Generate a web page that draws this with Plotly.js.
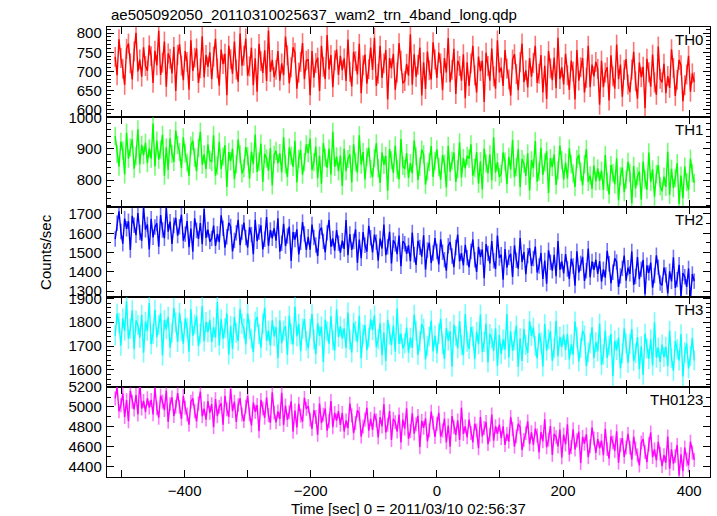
<!DOCTYPE html>
<html>
<head>
<meta charset="utf-8">
<script src="https://cdn.plot.ly/plotly-3.0.1.min.js"></script>
<style>html,body{margin:0;padding:0;background:#fff;}#chart{width:717px;height:516px;}</style>
</head>
<body>
<div id="chart"></div>
<script>
// ---- data ----
const chartTitle = "ae505092050_20110310025637_wam2_trn_4band_long.qdp";
const xTitle = "Time [sec] 0 = 2011/03/10 02:56:37";
const yTitle = "Counts/sec";
const bandNames = ["TH0", "TH1", "TH2", "TH3", "TH0123"];
const bandColors = ["#ff0000", "#00ff00", "#0000ff", "#00ffff", "#ff00ff"];
const errColors = ["rgba(255,0,0,0.55)", "rgba(0,255,0,0.55)", "rgba(0,0,255,0.55)", "rgba(0,255,255,0.55)", "rgba(255,0,255,0.55)"];
const tStart = -510, tStep = 3;
const xTickVals = [-500, -400, -300, -200, -100, 0, 100, 200, 300, 400];
const xTickText = ["", "\u2212400", "", "\u2212200", "", "0", "", "200", "", "400"];

const th0 = [
738,690,784,735,707,665,759,773,721,679,752,801,700,731,686,763,714,
702,768,740,670,754,716,806,691,723,778,660,747,733,695,764,649,743,
771,715,677,753,725,652,781,701,736,760,670,708,792,684,743,712,750,
680,739,785,708,663,757,719,746,638,767,732,694,778,705,673,799,715,
741,786,689,713,762,664,734,647,772,727,696,755,675,807,699,730,685,
704,753,676,721,690,791,742,669,711,763,749,655,697,725,774,680,728,
732,638,753,684,722,736,649,767,712,680,795,705,743,659,729,757,691,
741,703,734,675,783,699,661,751,727,692,772,643,716,744,668,706,762,
704,788,662,694,767,683,721,756,627,735,708,746,652,697,774,728,669,
675,720,689,797,665,745,686,717,762,637,724,654,752,703,679,776,731,
683,749,721,651,735,697,787,672,704,759,641,728,714,676,745,630,724,
662,721,767,690,645,739,701,728,620,749,714,676,760,687,655,781,697,
710,662,756,707,679,637,731,745,693,651,724,773,672,703,658,735,686,
722,767,670,694,743,645,715,628,753,708,677,736,656,788,680,711,666,
746,690,652,728,700,627,756,676,711,735,645,683,767,659,718,687,725,
707,613,728,659,697,711,624,742,687,655,770,680,718,634,704,732,666,
646,705,751,674,629,723,685,712,604,733,698,660,744,671,639,765,681,
671,720,643,688,657,758,709,636,678,730,716,622,664,692,741,647,695,672];

const th1 = [
940,883,843,922,894,818,951,868,904,930,836,876,962,850,912,879,919,
854,901,868,980,843,926,865,897,944,814,904,832,933,883,858,958,912,
889,838,936,885,856,813,910,925,871,828,903,954,849,882,835,914,864,
857,943,814,846,922,835,875,911,778,889,860,900,803,850,929,882,821,
837,905,876,804,891,851,945,826,858,916,794,884,869,830,902,783,880,
893,853,886,824,936,850,810,904,878,842,925,792,868,896,817,857,914,
886,932,832,857,907,806,878,788,918,871,839,900,817,954,842,875,828,
878,781,900,828,867,882,792,914,856,824,943,849,889,802,874,903,835,
809,870,917,838,791,888,848,877,766,899,863,823,910,834,802,931,845,
836,886,807,854,821,926,875,800,843,897,882,785,828,857,908,810,861,
898,841,801,880,852,776,909,826,862,888,794,834,920,808,870,837,877,
868,914,814,839,889,788,860,770,900,853,821,882,799,936,824,857,810,
820,888,859,787,874,834,928,809,841,899,777,867,852,813,885,766,863,
838,924,795,827,903,816,856,892,759,870,841,881,784,831,910,863,802,
856,805,901,850,821,778,867,880,826,783,850,899,794,815,772,846,796,
837,797,830,768,880,794,754,848,822,786,869,736,812,840,761,801,858,
823,726,845,773,812,827,737,859,801,769,888,794,834,747,819,848,780,
764,811,778,890,753,836,775,807,854,724,814,742,843,793,768,868,822,791];

const th2 = [
1570,1652,1714,1609,1546,1676,1623,1662,1513,1690,1642,1590,1705,1604,1561,1734,1618,
1646,1516,1675,1579,1632,1651,1531,1694,1617,1574,1732,1608,1660,1545,1641,1680,1588,
1634,1696,1562,1595,1663,1528,1624,1504,1677,1615,1571,1653,1543,1725,1576,1619,1557,
1573,1640,1534,1597,1554,1693,1626,1525,1582,1654,1635,1506,1563,1602,1669,1539,1606,
1655,1578,1526,1631,1593,1492,1670,1559,1607,1641,1516,1569,1684,1535,1617,1574,1626,
1562,1678,1505,1548,1649,1534,1586,1634,1457,1606,1567,1620,1490,1553,1658,1596,1514,
1582,1515,1645,1578,1539,1482,1611,1630,1558,1501,1602,1669,1530,1573,1510,1616,1549,
1500,1562,1519,1668,1486,1596,1514,1558,1620,1447,1567,1471,1606,1538,1505,1639,1577,
1501,1593,1554,1458,1573,1521,1645,1487,1530,1607,1444,1564,1545,1492,1588,1429,1559,
1546,1494,1537,1455,1604,1489,1436,1561,1527,1479,1590,1412,1513,1551,1446,1498,1575,
1506,1439,1569,1502,1463,1406,1535,1554,1482,1425,1526,1593,1454,1497,1434,1540,1473,
1424,1506,1568,1463,1400,1530,1477,1516,1367,1544,1496,1444,1559,1458,1415,1588,1472,
1489,1359,1518,1422,1475,1494,1374,1537,1460,1417,1575,1451,1503,1388,1484,1523,1431,
1469,1531,1397,1430,1498,1363,1459,1339,1512,1450,1406,1488,1378,1560,1411,1454,1392,
1492,1415,1363,1468,1430,1329,1507,1396,1444,1478,1353,1406,1521,1372,1454,1411,1463,
1389,1456,1350,1413,1370,1509,1442,1341,1398,1470,1451,1322,1379,1418,1485,1355,1422,
1390,1506,1333,1376,1477,1362,1414,1462,1285,1434,1395,1448,1318,1381,1486,1424,1342,
1331,1423,1384,1288,1403,1351,1475,1317,1360,1437,1274,1394,1375,1322,1418,1259,1389,1352];

const th3 = [
1744,1836,1797,1701,1816,1764,1888,1730,1773,1850,1687,1807,1788,1735,1831,1672,1802,
1765,1881,1708,1751,1852,1737,1789,1837,1660,1809,1770,1823,1693,1756,1861,1799,1717,
1839,1762,1710,1815,1777,1676,1854,1743,1791,1825,1700,1753,1868,1719,1801,1758,1810,
1717,1779,1736,1885,1703,1813,1731,1775,1837,1664,1784,1688,1823,1755,1722,1856,1794,
1774,1707,1837,1770,1731,1674,1803,1822,1750,1693,1794,1861,1722,1765,1702,1808,1741,
1779,1649,1808,1712,1765,1784,1664,1827,1750,1707,1865,1741,1793,1678,1774,1813,1721,
1690,1772,1834,1729,1666,1796,1743,1782,1633,1810,1762,1710,1825,1724,1681,1854,1738,
1783,1731,1774,1692,1841,1726,1673,1798,1764,1716,1827,1649,1750,1788,1683,1735,1812,
1767,1829,1695,1728,1796,1661,1757,1637,1810,1748,1704,1786,1676,1858,1709,1752,1690,
1711,1778,1672,1735,1692,1831,1764,1663,1720,1792,1773,1644,1701,1740,1807,1677,1744,
1670,1752,1814,1709,1646,1776,1723,1762,1613,1790,1742,1690,1805,1704,1661,1834,1718,
1688,1780,1741,1645,1760,1708,1832,1674,1717,1794,1631,1751,1732,1679,1775,1616,1746,
1666,1728,1685,1834,1652,1762,1680,1724,1786,1613,1733,1637,1772,1704,1671,1805,1743,
1777,1700,1648,1753,1715,1614,1792,1681,1729,1763,1638,1691,1806,1657,1739,1696,1748,
1683,1750,1644,1707,1664,1803,1736,1635,1692,1764,1745,1616,1673,1712,1779,1649,1716,
1678,1794,1621,1664,1765,1650,1702,1750,1573,1722,1683,1736,1606,1669,1774,1712,1630,
1709,1771,1637,1670,1738,1603,1699,1579,1752,1690,1646,1728,1618,1800,1651,1694,1632,
1706,1654,1697,1615,1764,1649,1596,1721,1687,1639,1750,1572,1673,1711,1606,1658,1735,1640];

const th0123 = [
5086,5197,4958,5018,5137,4899,5069,4856,5163,5052,4975,5120,4924,5248,4984,5061,4950,
5088,4994,5071,4926,5190,4986,4892,5114,5054,4969,5165,4850,5029,5097,4909,5003,5139,
5001,4881,5111,4992,4924,4822,5052,5086,4958,4856,5035,5154,4907,4984,4873,5060,4941,
5028,4798,5079,4908,5002,5036,4823,5113,4976,4900,5181,4959,5053,4849,5019,5087,4925,
4858,5003,5113,4926,4815,5045,4951,5020,4756,5071,4986,4892,5096,4917,4841,5147,4943,
4845,4956,4879,5143,4819,5015,4870,4947,5058,4751,4964,4794,5032,4913,4853,5092,4981,
5009,4873,4779,4967,4899,4720,5035,4839,4924,4984,4762,4856,5060,4796,4941,4864,4958,
4821,4940,4753,4864,4787,5034,4915,4736,4838,4966,4932,4702,4804,4872,4991,4761,4881,
4770,4932,4864,4694,4898,4804,5026,4745,4821,4958,4668,4881,4847,4753,4924,4643,4873,
4783,4987,4681,4757,4936,4732,4826,4911,4596,4860,4791,4885,4655,4766,4953,4843,4698,
4831,4942,4703,4763,4882,4644,4814,4601,4908,4797,4720,4865,4669,4993,4729,4806,4695,
4874,4738,4644,4832,4764,4585,4900,4704,4789,4849,4627,4721,4925,4661,4806,4729,4823,
4686,4805,4618,4729,4652,4899,4780,4601,4703,4831,4797,4567,4669,4737,4856,4626,4746,
4620,4782,4714,4544,4748,4654,4876,4595,4671,4808,4518,4731,4697,4603,4774,4493,4723,
4623,4827,4521,4597,4776,4572,4666,4751,4436,4700,4631,4725,4495,4606,4793,4683,4538,
4678,4584,4661,4516,4780,4576,4482,4704,4644,4559,4755,4440,4619,4687,4499,4593,4729,
4591,4471,4701,4582,4514,4412,4642,4676,4548,4446,4625,4744,4497,4574,4463,4650,4531,
4405,4516,4439,4703,4379,4575,4430,4507,4618,4311,4524,4354,4592,4473,4413,4652,4541,4468];

const bandErrors = [26, 29, 40, 42, 70];
const yRanges = [[581, 816], [714, 1001], [1270, 1736], [1528, 1906], [4296, 5201]];
const yDticks = [50, 100, 100, 100, 200];
const yMinor = [10, 20, 50, 20, 100];

// ---- build ----
const series = [th0, th1, th2, th3, th0123];
const fontFam = "Liberation Sans, Arial, Helvetica, sans-serif";

const traces = series.map((vals, k) => ({
  type: "scatter", mode: "lines",
  x: vals.map((_, i) => tStart + i * tStep), y: vals,
  xaxis: "x" + (k + 1), yaxis: "y" + (k + 1),
  line: { color: bandColors[k], width: 1.4 },
  error_y: { type: "constant", value: bandErrors[k], color: errColors[k], thickness: 1.6, width: 0 },
  hoverinfo: "skip"
}));

const layout = {
  width: 717, height: 516,
  margin: { l: 107, r: 7, t: 27, b: 39, pad: 0 },
  showlegend: false,
  paper_bgcolor: "#fff", plot_bgcolor: "#fff",
  font: { family: fontFam, size: 15, color: "#000" },
  annotations: []
};

for (let k = 0; k < 5; k++) {
  const top = 1 - k * 0.2, bot = 1 - (k + 1) * 0.2;
  layout["xaxis" + (k + 1)] = {
    domain: [0, 1], anchor: "y" + (k + 1),
    range: [-523, 433],
    tickmode: "array", tickvals: xTickVals, ticktext: xTickText,
    showticklabels: k === 4,
    ticks: "inside", ticklen: 7, tickwidth: 1, tickcolor: "#000",
    mirror: "ticks", showline: true, linecolor: "#000", linewidth: 1.2,
    showgrid: false, zeroline: false,
    tickfont: { size: 15 }
  };
  layout["yaxis" + (k + 1)] = {
    domain: [bot, top], anchor: "x" + (k + 1),
    range: yRanges[k], dtick: yDticks[k], tick0: 0,
    ticks: "inside", ticklen: 7, tickwidth: 1, tickcolor: "#000",
    minor: { dtick: yMinor[k], tick0: 0, ticks: "inside", ticklen: 4, tickcolor: "#000", showgrid: false },
    mirror: "ticks", showline: true, linecolor: "#000", linewidth: 1.2,
    showgrid: false, zeroline: false,
    tickfont: { size: 15 }, ticklabelstandoff: 1
  };
  layout.annotations.push({
    xref: "paper", yref: "paper", x: 0.992, y: top - 0.004,
    xanchor: "right", yanchor: "top", showarrow: false,
    text: bandNames[k], font: { size: 15, color: "#000" }
  });
}

layout.annotations.push({
  xref: "paper", yref: "paper", x: 0.004, y: 1.004, xanchor: "left", yanchor: "bottom",
  showarrow: false, text: chartTitle, font: { size: 15 }
});
layout.annotations.push({
  xref: "paper", yref: "paper", x: 0.5, y: -0.069, xanchor: "center", yanchor: "middle",
  showarrow: false, text: xTitle, font: { size: 15 }
});
layout.annotations.push({
  xref: "paper", yref: "paper", x: -0.103, y: 0.5, xanchor: "center", yanchor: "middle",
  showarrow: false, text: yTitle, textangle: -90, font: { size: 15 }
});

Plotly.newPlot("chart", traces, layout, { staticPlot: true, displayModeBar: false });
</script>
</body>
</html>
